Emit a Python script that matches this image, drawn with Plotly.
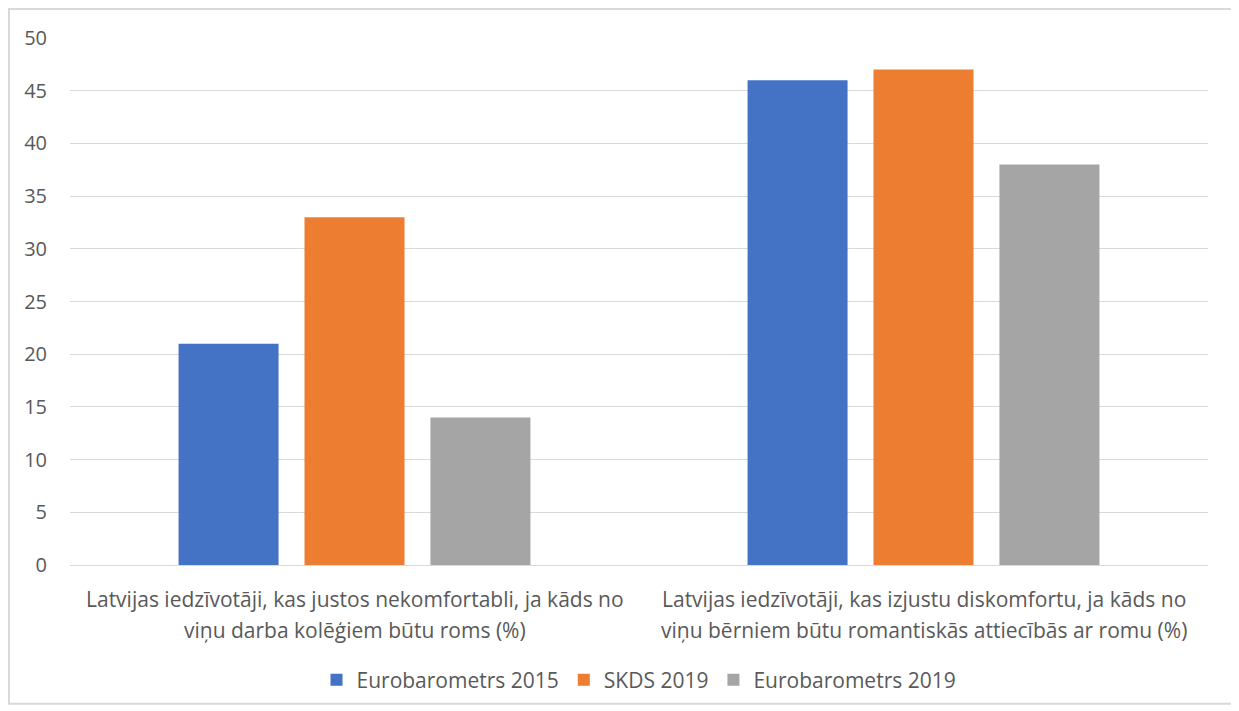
import plotly.graph_objects as go

# category labels, split in two lines as in the original
label_lines = [
    ["Latvijas iedzīvotāji, kas justos nekomfortabli, ja kāds no",
     "viņu darba kolēģiem būtu roms (%)"],
    ["Latvijas iedzīvotāji, kas izjustu diskomfortu, ja kāds no",
     "viņu bērniem būtu romantiskās attiecībās ar romu (%)"],
]
categories = [" ".join(l) for l in label_lines]
series_names = ["Eurobarometrs 2015", "SKDS 2019", "Eurobarometrs 2019"]
eb2015 = [21, 46]
skds2019 = [33, 47]
eb2019 = [14, 38]
colors = ["#4472C4", "#ED7D31", "#A5A5A5"]
tick_vals = [0, 5, 10, 15, 20, 25, 30, 35, 40, 45, 50]

FONT = "Open Sans, sans-serif"
TXT = "#595959"

fig = go.Figure()
for name, vals, col in zip(series_names, [eb2015, skds2019, eb2019], colors):
    fig.add_trace(go.Bar(x=categories, y=vals, name=name, marker=dict(color=col, line=dict(width=0))))

# category labels as annotations (two lines each, wider line spacing)
annots = []
for cat, lines in zip(categories, label_lines):
    for k, line in enumerate(lines):
        annots.append(dict(x=cat, y=0, xref="x", yref="y", text=line, showarrow=False,
                           xanchor="center", yanchor="middle", yshift=-34 - 31 * k,
                           font=dict(family=FONT, size=21, color=TXT)))

fig.update_layout(
    width=1231, height=703,
    margin=dict(l=62, r=31, t=30, b=145),
    paper_bgcolor="white", plot_bgcolor="white",
    font=dict(family=FONT, color=TXT, size=16),
    barmode="group", bargap=0.336, bargroupgap=0.206,
    legend=dict(orientation="h", x=0.5, xanchor="center", y=-114 / 528, yanchor="middle",
                font=dict(size=21), itemwidth=30, traceorder="normal"),
    showlegend=True,
    annotations=annots,
    shapes=[dict(type="rect", xref="paper", yref="paper",
                 x0=-61 / 1138, x1=1 + 28 / 1138, y0=-139 / 528, y1=1 + 29 / 528,
                 line=dict(color="#d9d9d9", width=2), layer="below")],
)
fig.update_xaxes(showgrid=False, showline=True, linecolor="#d9d9d9", linewidth=1,
                 ticks="", showticklabels=False)
fig.update_yaxes(range=[0, 50], tickvals=tick_vals, showgrid=True, gridcolor="#d9d9d9",
                 gridwidth=1, zeroline=False, showline=False, ticks="",
                 tickfont=dict(size=20), ticklabelstandoff=22)

fig.write_html("out.html")
